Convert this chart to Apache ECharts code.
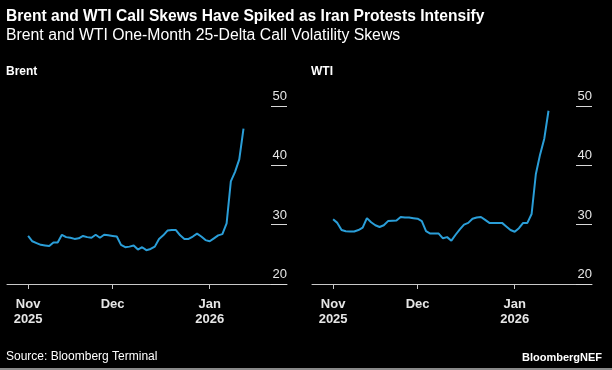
<!DOCTYPE html>
<html>
<head>
<meta charset="utf-8">
<script src="https://cdn.jsdelivr.net/npm/echarts@6/dist/echarts.min.js"></script>
<style>
  html, body { margin: 0; padding: 0; background: #000; }
  #chart { width: 612px; height: 370px; }
</style>
</head>
<body>
<div id="chart"></div>
<script>
// Trading-day dates (weekdays), Nov 3 2025 – Jan 13 2026
const dates = [
  "2025-11-03","2025-11-04","2025-11-05","2025-11-06","2025-11-07",
  "2025-11-10","2025-11-11","2025-11-12","2025-11-13","2025-11-14",
  "2025-11-17","2025-11-18","2025-11-19","2025-11-20","2025-11-21",
  "2025-11-24","2025-11-25","2025-11-26","2025-11-27","2025-11-28",
  "2025-12-01","2025-12-02","2025-12-03","2025-12-04","2025-12-05",
  "2025-12-08","2025-12-09","2025-12-10","2025-12-11","2025-12-12",
  "2025-12-15","2025-12-16","2025-12-17","2025-12-18","2025-12-19",
  "2025-12-22","2025-12-23","2025-12-24","2025-12-25","2025-12-26",
  "2025-12-29","2025-12-30","2025-12-31",
  "2026-01-01","2026-01-02","2026-01-05","2026-01-06","2026-01-07",
  "2026-01-08","2026-01-09","2026-01-12","2026-01-13"
];
const brentSkew = [
  28.1, 27.2, 26.9, 26.6, 26.5, 26.4, 27.0, 27.0, 28.3, 27.9,
  27.8, 27.6, 27.7, 28.1, 27.9, 27.8, 28.3, 27.8, 28.3, 28.2,
  28.1, 28.0, 26.6, 26.2, 26.3, 26.5, 25.8, 26.2, 25.7, 25.9,
  26.3, 27.6, 28.2, 29.0, 29.1, 29.1, 28.2, 27.6, 27.6, 28.0,
  28.5, 28.0, 27.4, 27.2, 27.7, 28.2, 28.4, 30.2, 37.3, 38.9,
  41.0, 46.2
];
const wtiSkew = [
  30.9, 30.3, 29.1, 28.9, 28.85, 28.85, 29.1, 29.5, 31.1, 30.4,
  29.9, 29.6, 29.9, 30.6, 30.65, 30.7, 31.3, 31.2, 31.2, 31.1,
  31.0, 30.6, 28.9, 28.5, 28.5, 28.5, 27.7, 27.9, 27.3, 28.3,
  29.2, 30.0, 30.3, 31.0, 31.2, 31.3, 30.8, 30.3, 30.3, 30.3,
  30.3, 29.7, 29.1, 28.8, 29.4, 30.3, 30.3, 31.8, 38.5, 41.8,
  44.5, 49.2
];
const tickDates = ["2025-11-03", "2025-12-01", "2026-01-01"];
const tickLabels = ["Nov\n2025", "Dec", "Jan\n2026"];
const yTicks = [20, 30, 40, 50];
const panelNames = ["Brent", "WTI"];

const tickIdx = tickDates.map(d => dates.indexOf(d));
const labelFor = {};
tickIdx.forEach((ix, k) => { labelFor[ix] = tickLabels[k]; });

const FONT = "'Liberation Sans', Arial, sans-serif";
const lineColor = '#2a9ed8';
const grids = [
  { left: 7, width: 280, top: 106, bottom: 86 },
  { left: 312, width: 280, top: 106, bottom: 86 }
];

function xAxisFor(g) {
  return {
    type: 'value', gridIndex: g, min: -5, max: 61.3,
    splitLine: { show: false },
    axisLine: { show: true, onZero: false, lineStyle: { color: '#c8c8c8', width: 1 } },
    axisTick: { show: true, customValues: tickIdx, length: 5, lineStyle: { color: '#c8c8c8' } },
    axisLabel: {
      customValues: tickIdx,
      formatter: v => labelFor[Math.round(v)] || '',
      color: '#e6e6e6', fontFamily: FONT, fontSize: 13, fontWeight: 'bold',
      lineHeight: 15, margin: 13
    }
  };
}
function yAxisFor(g) {
  return {
    type: 'value', gridIndex: g, position: 'right',
    min: yTicks[0], max: yTicks[yTicks.length - 1], interval: 10,
    splitLine: { show: false },
    axisLine: { show: false, onZero: false },
    axisTick: { show: true, inside: true, length: 16, lineStyle: { color: '#d8d8d8', width: 1 } },
    axisLabel: {
      inside: true, margin: 0, align: 'right', verticalAlign: 'bottom',
      padding: [0, 0, 3, 0],
      color: '#e6e6e6', fontFamily: FONT, fontSize: 13
    }
  };
}

const chart = echarts.init(document.getElementById('chart'), null, { renderer: 'canvas' });
chart.setOption({
  backgroundColor: '#000',
  animation: false,
  title: [
    { text: 'Brent and WTI Call Skews Have Spiked as Iran Protests Intensify', left: 6, top: 9, padding: 0,
      textStyle: { color: '#fff', fontFamily: FONT, fontSize: 15.6, fontWeight: 'bold' } },
    { text: 'Brent and WTI One-Month 25-Delta Call Volatility Skews', left: 6, top: 28, padding: 0,
      textStyle: { color: '#fff', fontFamily: FONT, fontSize: 15.8, fontWeight: 'normal' } },
    { text: panelNames[0], left: 6, top: 66, padding: 0,
      textStyle: { color: '#fff', fontFamily: FONT, fontSize: 12, fontWeight: 'bold' } },
    { text: panelNames[1], left: 311, top: 66, padding: 0,
      textStyle: { color: '#fff', fontFamily: FONT, fontSize: 12, fontWeight: 'bold' } },
    { text: 'Source: Bloomberg Terminal', left: 6, top: 351, padding: 0,
      textStyle: { color: '#fff', fontFamily: FONT, fontSize: 12, fontWeight: 'normal' } },
    { text: 'BloombergNEF', right: 10, top: 352, padding: 0,
      textStyle: { color: '#fff', fontFamily: FONT, fontSize: 11, fontWeight: 'bold' } }
  ],
  graphic: [
    { type: 'rect', left: 0, top: 368, shape: { width: 612, height: 2 }, style: { fill: '#8a8a8a' }, silent: true }
  ],
  grid: grids,
  xAxis: [xAxisFor(0), xAxisFor(1)],
  yAxis: [yAxisFor(0), yAxisFor(1)],
  series: [
    { type: 'line', xAxisIndex: 0, yAxisIndex: 0, name: panelNames[0],
      data: brentSkew.map((v, i) => [i, v]), showSymbol: false,
      lineStyle: { color: lineColor, width: 2 } },
    { type: 'line', xAxisIndex: 1, yAxisIndex: 1, name: panelNames[1],
      data: wtiSkew.map((v, i) => [i, v]), showSymbol: false,
      lineStyle: { color: lineColor, width: 2 } }
  ]
});
</script>
</body>
</html>
